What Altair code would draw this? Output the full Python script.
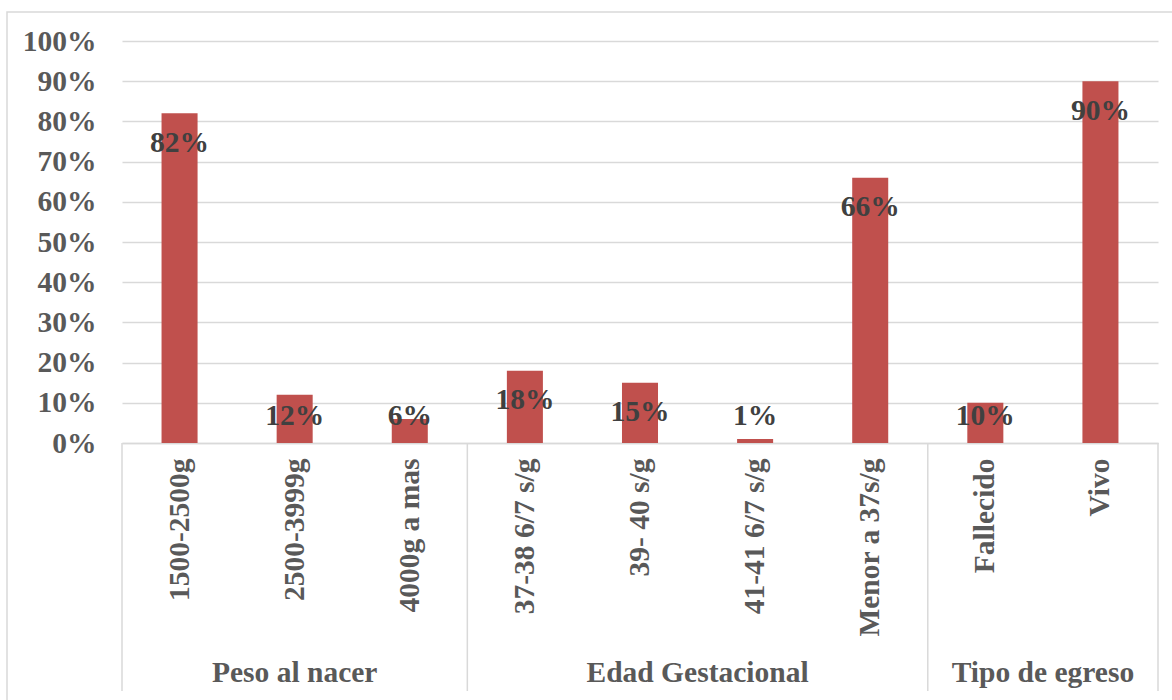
import altair as alt
import pandas as pd

# Categories (in display order), their group and the share of each one
categories = ["1500-2500g", "2500-3999g", "4000g a mas",
              "37-38 6/7 s/g", "39- 40 s/g", "41-41 6/7 s/g", "Menor a 37s/g",
              "Fallecido", "Vivo"]
values = [0.82, 0.12, 0.06, 0.18, 0.15, 0.01, 0.66, 0.10, 0.90]

# Group headers: name, first index, last index (exclusive)
group_names = ["Peso al nacer", "Edad Gestacional", "Tipo de egreso"]
group_start = [0, 3, 7]
group_end = [3, 7, 9]

y_ticks = [0, 0.1, 0.2, 0.3, 0.4, 0.5, 0.6, 0.7, 0.8, 0.9, 1.0]

W, H = 1036, 402
LEFT, TOP = 122, 41
FONT = "Liberation Serif"
FS = 29.5
BAR = "#C0504D"
GRID = "#D9D9D9"
AXIS_TXT = "#595959"
LABEL_TXT = "#404040"

df = pd.DataFrame({"cat": categories, "v": values})
groups = pd.DataFrame({
    "name": group_names,
    "mid": [(a + b) / 2 for a, b in zip(group_start, group_end)],
})
bounds = pd.DataFrame({"b": sorted(set(group_start + group_end))})

band_scale = alt.Scale(paddingInner=0.687, paddingOuter=0.3435)
y_scale = alt.Scale(domain=[0, 1], nice=False)

bars = alt.Chart(df).mark_bar(color=BAR).encode(
    x=alt.X(
        "cat:N", sort=categories, title=None, scale=band_scale,
        axis=alt.Axis(labelAngle=270, labelFont=FONT, labelFontSize=FS,
                      labelFontWeight="bold", labelColor=AXIS_TXT,
                      labelPadding=15, ticks=False, domainColor=GRID,
                      domainWidth=1.5, labelLimit=400),
    ),
    y=alt.Y("v:Q", scale=y_scale, title=None,
            axis=alt.Axis(values=y_ticks, format=".0%", labelFont=FONT,
                          labelFontSize=FS, labelFontWeight="bold",
                          labelColor=AXIS_TXT, labelPadding=26, ticks=False,
                          domain=False, gridColor=GRID, gridWidth=1.5)),
)

# Value labels sit just inside the bar top, kept above the baseline for short bars
labels = alt.Chart(df).transform_calculate(
    pos="max(datum.v - 0.073, 0.066)",
    txt="format(datum.v, '.0%')",
).mark_text(font=FONT, fontSize=FS, fontWeight="bold", color=LABEL_TXT,
            baseline="middle", align="center").encode(
    x=alt.X("cat:N", sort=categories, scale=band_scale),
    y=alt.Y("pos:Q", scale=y_scale),
    text="txt:N",
)

bar_panel = alt.layer(bars, labels)

x_lin = alt.Scale(domain=[0, len(categories)], range=[0, W])

separators = alt.Chart(bounds).mark_rule(color=GRID, strokeWidth=1.5).encode(
    x=alt.X("b:Q", scale=x_lin, axis=None),
    y=alt.value(H),
    y2=alt.value(650),
)

group_text = alt.Chart(groups).mark_text(
    font=FONT, fontSize=FS, fontWeight="bold", color=AXIS_TXT,
    baseline="middle", align="center").encode(
    x=alt.X("mid:Q", scale=x_lin, axis=None),
    y=alt.value(632),
    text="name:N",
)

under_axis = alt.layer(separators, group_text)

frame = alt.Chart(pd.DataFrame({"k": [0]})).mark_rect(
    fill=None, stroke=GRID, strokeWidth=1.5).encode(
    x=alt.value(7 - LEFT), x2=alt.value(1180 - LEFT),
    y=alt.value(12 - TOP), y2=alt.value(720 - TOP),
)

chart = alt.layer(
    frame, bar_panel, under_axis
).resolve_scale(x="independent").properties(
    width=W, height=H,
    autosize=alt.AutoSizeParams(type="none"),
    padding={"left": LEFT, "top": TOP, "right": 1172 - LEFT - W,
             "bottom": 700 - TOP - H},
    background="white",
).configure_view(stroke=None)

chart.save("out.html", embed_options={"renderer": "svg", "actions": False})
